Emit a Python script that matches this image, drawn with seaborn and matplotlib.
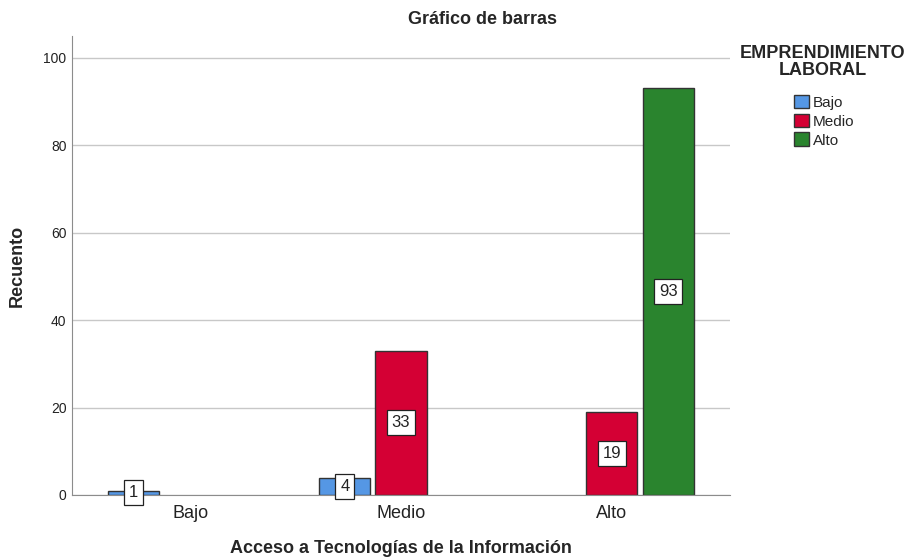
import pandas as pd
import numpy as np
import seaborn as sns
import matplotlib.pyplot as plt

# data
acceso = ["Bajo", "Medio", "Medio", "Alto", "Alto"]
emprendimiento = ["Bajo", "Bajo", "Medio", "Medio", "Alto"]
recuento = [1, 4, 33, 19, 93]
niveles = ["Bajo", "Medio", "Alto"]
colores = ["#5597E4", "#D40034", "#2A842E"]

df = pd.DataFrame({"Acceso": acceso, "Emprendimiento": emprendimiento, "Recuento": recuento})

sns.set_style("white")
plt.rcParams["font.family"] = ["Liberation Sans", "DejaVu Sans"]

fig = plt.figure(figsize=(9.11, 5.60), dpi=100)
ax = fig.add_axes([72/911, 65/560, 658/911, 459/560])

sns.barplot(data=df, x="Acceso", y="Recuento", hue="Emprendimiento",
            order=niveles, hue_order=niveles, palette=colores, saturation=1,
            width=0.8, gap=0.09, edgecolor="#333333", linewidth=1.0,
            errorbar=None, ax=ax)

# value labels in white boxes at the middle of each bar
for cont in ax.containers:
    for p in cont:
        h = p.get_height()
        if np.isnan(h) or h == 0:
            continue
        ax.text(p.get_x() + p.get_width()/2, h/2, f"{int(round(h))}",
                ha="center", va="center", fontsize=12, color="#222222",
                bbox=dict(boxstyle="square,pad=0.3", fc="white", ec="#222222", lw=0.9),
                zorder=5)

ax.set_xlim(-0.56, 2.56)
ax.set_ylim(0, 105)
ax.set_yticks([0, 20, 40, 60, 80, 100])
ax.yaxis.grid(True, color="#c8c8c8", lw=1.0)
ax.set_axisbelow(True)
for s in ["top", "right"]:
    ax.spines[s].set_visible(False)
ax.spines["left"].set_color("#8c8c8c")
ax.spines["bottom"].set_color("#8c8c8c")
ax.tick_params(axis="y", length=0, labelsize=10, pad=4, labelcolor="#222222")
ax.tick_params(axis="x", length=0, labelsize=13, pad=7, labelcolor="#222222")

ax.set_xlabel("Acceso a Tecnologías de la Información", fontsize=13, fontweight="bold", labelpad=13)
ax.set_ylabel("Recuento", fontsize=13, fontweight="bold", labelpad=13)
fig.text(483/911, 1 - 20/560, "Gráfico de barras", ha="center", va="center",
         fontsize=13, fontweight="bold")

handles, labels = ax.get_legend_handles_labels()
if ax.legend_:
    ax.legend_.remove()
fig.text(823/911, 1 - 62/560, "EMPRENDIMIENTO\nLABORAL", ha="center", va="center",
         fontsize=13, fontweight="bold", multialignment="center", linespacing=0.95)
fig.legend(handles, labels, loc="upper left", bbox_to_anchor=(783/911, 1 - 84/560),
           frameon=False, fontsize=11, handlelength=1.0, handleheight=1.0,
           handletextpad=0.25, labelspacing=0.25, borderpad=0.2)

fig.savefig("out.png", dpi=100)
